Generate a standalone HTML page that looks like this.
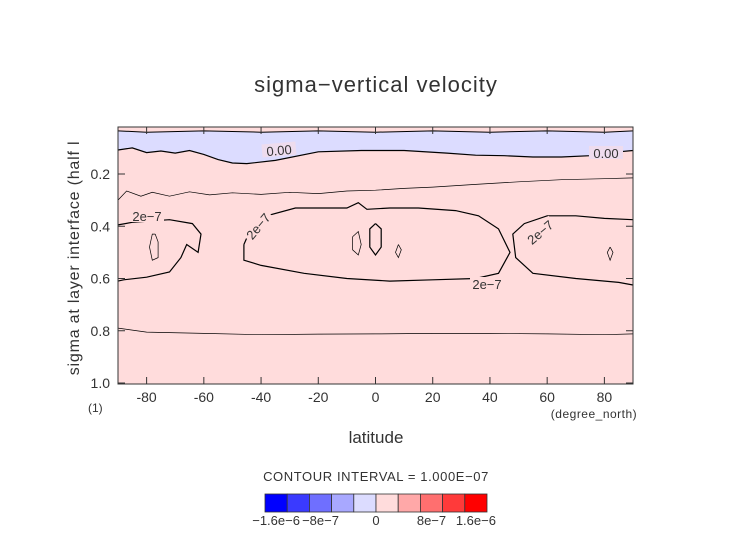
<!DOCTYPE html>
<html><head><meta charset="utf-8"><style>
body{margin:0;background:#fff;font-family:"Liberation Sans",sans-serif}
svg text{font-family:"Liberation Sans",sans-serif;fill:#333}
</style></head><body>
<svg id="c" width="752" height="532" xmlns="http://www.w3.org/2000/svg">
<text x="376" y="92" font-size="22" text-anchor="middle" letter-spacing="1">sigma−vertical velocity</text>
<g id="plot"></g>
<text x="79" y="258" font-size="16" text-anchor="middle" letter-spacing="0.8" transform="rotate(-90 79 258)">sigma at layer interface (half l</text>
<text x="88" y="412" font-size="12">(1)</text>
<text x="376" y="443" font-size="17" text-anchor="middle">latitude</text>
<text x="594" y="418" font-size="12" text-anchor="middle" letter-spacing="0.5">(degree_north)</text>
<text x="376" y="481" font-size="13" text-anchor="middle" letter-spacing="0.6">CONTOUR INTERVAL = 1.000E−07</text>
<g id="cbar"></g>
</svg>
<script>
const xTicks=[-80,-60,-40,-20,0,20,40,60,80];
const yTicks=[0.2,0.4,0.6,0.8,1.0];
const zeroTop=[[-90,0.035],[-80,0.04],[-60,0.035],[-40,0.04],[-20,0.035],[0,0.04],[20,0.035],[40,0.04],[60,0.035],[80,0.04],[90,0.035]];
const zeroBottom=[[-90,0.108],[-85,0.1],[-80,0.118],[-75,0.112],[-70,0.12],[-65,0.11],[-60,0.125],[-55,0.145],[-50,0.158],[-45,0.16],[-35,0.148],[-20,0.115],[-5,0.11],[10,0.11],[25,0.12],[35,0.128],[45,0.13],[55,0.135],[65,0.135],[75,0.13],[85,0.115],[90,0.11]];
const thinUpper=[[-90,0.30],[-87,0.265],[-82,0.285],[-78,0.27],[-72,0.285],[-65,0.268],[-58,0.28],[-50,0.272],[-40,0.278],[-30,0.27],[-20,0.275],[-10,0.265],[0,0.262],[10,0.255],[20,0.25],[35,0.24],[50,0.23],[65,0.222],[80,0.218],[90,0.215]];
const c2Left=[[-90,0.395],[-85,0.385],[-72,0.375],[-64,0.39],[-61,0.43],[-62,0.5],[-66,0.47],[-68,0.52],[-72,0.575],[-80,0.595],[-88,0.605],[-90,0.61]];
const c2Mid=[[-46,0.47],[-44,0.42],[-38,0.36],[-28,0.33],[-10,0.33],[-6,0.31],[-3,0.335],[5,0.33],[15,0.33],[28,0.34],[36,0.36],[43,0.41],[47,0.5],[43,0.58],[35,0.6],[20,0.605],[5,0.61],[-10,0.6],[-25,0.58],[-40,0.55],[-46,0.53],[-46,0.47]];
const c2Right=[[90,0.375],[80,0.37],[70,0.36],[60,0.36],[52,0.39],[48,0.43],[49,0.52],[55,0.58],[70,0.6],[85,0.615],[90,0.625]];
const thinLower=[[-90,0.79],[-80,0.805],[-60,0.81],[-40,0.815],[-20,0.813],[0,0.812],[20,0.81],[40,0.81],[60,0.812],[80,0.815],[90,0.812]];
const ovals=[[[-77,0.43],[-76,0.46],[-76,0.52],[-78,0.53],[-79,0.48],[-78,0.43],[-77,0.43]],
 [[-8,0.44],[-6,0.42],[-5,0.47],[-6,0.51],[-8,0.49],[-8,0.44]],
 [[0,0.39],[2,0.41],[2,0.48],[0,0.51],[-2,0.48],[-2,0.41],[0,0.39]],
 [[8,0.47],[9,0.49],[8,0.52],[7,0.5],[8,0.47]],
 [[82,0.48],[83,0.5],[82,0.53],[81,0.5],[82,0.48]]];
const cbarValues=[-1.6e-6,-1.2e-6,-8e-7,-4e-7,0,4e-7,8e-7,1.2e-6,1.6e-6,2e-6];
const cbarColors=["#0000ff","#3a3aff","#6f6fff","#a8a8ff","#dcdcff","#ffdcdc","#ffa8a8","#ff6f6f","#ff3a3a","#ff0000"];
const cbarLabels=["−1.6e−6","−8e−7","0","8e−7","1.6e−6"];
const cbarLabelIdx=[0,2,4.5,7,9];

const X0=118,X1=633,Y0=127,Y1=384;
const sx=l=>X0+(l+90)/180*(X1-X0);
const sy=s=>174+(s-0.2)/0.8*209;
const NS="http://www.w3.org/2000/svg";
const g=document.getElementById('plot');
function mk(t,a,p){const e=document.createElementNS(NS,t);for(const k in a)e.setAttribute(k,a[k]);(p||g).appendChild(e);return e;}
const pts=a=>a.map(p=>sx(p[0]).toFixed(1)+','+sy(p[1]).toFixed(1)).join(' ');
let e=mk('rect',{x:X0,y:Y0,width:X1-X0,height:Y1-Y0,fill:'#ffdcdc'});


e=mk('polygon',{points:pts(zeroTop.concat(zeroBottom.slice().reverse())),fill:'#dcdcff'});


function line(a,w,name){const l=mk('polyline',{points:pts(a),fill:'none',stroke:'#000','stroke-width':w});

}
line(zeroTop,1,'contour-zero-top');
line(zeroBottom,1.2,'contour-zero');
line(thinUpper,0.7,'contour-1e-7-upper');
line(c2Left,1.2,'contour-2e-7-left');
line(c2Mid,1.2,'contour-2e-7-mid');
line(c2Right,1.2,'contour-2e-7-right');
line(thinLower,0.7,'contour-1e-7-lower');
ovals.forEach((o,i)=>line(o,i==2?1.2:0.7,'contour-oval'));
function lab(t,x,y,r,bgc){const bg=mk('rect',{x:x-17,y:y-7,width:34,height:13,fill:bgc||'#ffdcdc',transform:r?`rotate(${r} ${x} ${y})`:''});
const tx=mk('text',{x:x,y:y+5,'font-size':13,'text-anchor':'middle',fill:'#000',transform:r?`rotate(${r} ${x} ${y})`:''});tx.textContent=t;

}
lab('0.00',279,150,-5,'#eedcee');lab('0.00',606,153,0,'#eedcee');lab('2e−7',147,216,0);lab('2e−7',258,226,-50);lab('2e−7',487,284,0);lab('2e−7',540,232,-40);
e=mk('rect',{x:X0,y:Y0,width:X1-X0,height:Y1-Y0,fill:'none',stroke:'#333','stroke-width':1});


xTicks.forEach(v=>{mk('line',{x1:sx(v),x2:sx(v),y1:Y1,y2:Y1-7,stroke:'#333'});mk('line',{x1:sx(v),x2:sx(v),y1:Y0,y2:Y0+7,stroke:'#333'});
const t=mk('text',{x:sx(v),y:Y1+18,'font-size':14,'text-anchor':'middle'});t.textContent=v;

});
yTicks.forEach(v=>{mk('line',{x1:X0,x2:X0+7,y1:sy(v),y2:sy(v),stroke:'#333'});mk('line',{x1:X1,x2:X1-7,y1:sy(v),y2:sy(v),stroke:'#333'});
const t=mk('text',{x:X0-8,y:sy(v)+5,'font-size':14,'text-anchor':'end'});t.textContent=v.toFixed(1);

});
const cb=document.getElementById('cbar');const bw=22.2,bx=265,by=494;
cbarValues.forEach((v,i)=>{const r=mk('rect',{x:bx+i*bw,y:by,width:bw,height:18,fill:cbarColors[i],stroke:'#333','stroke-width':0.8},cb);

});
cbarLabels.forEach((s,i)=>{const t=mk('text',{x:bx+(cbarLabelIdx[i]+0.5)*bw,y:by+31,'font-size':13,'text-anchor':'middle'},cb);t.textContent=s;

});
</script>
</body></html>
